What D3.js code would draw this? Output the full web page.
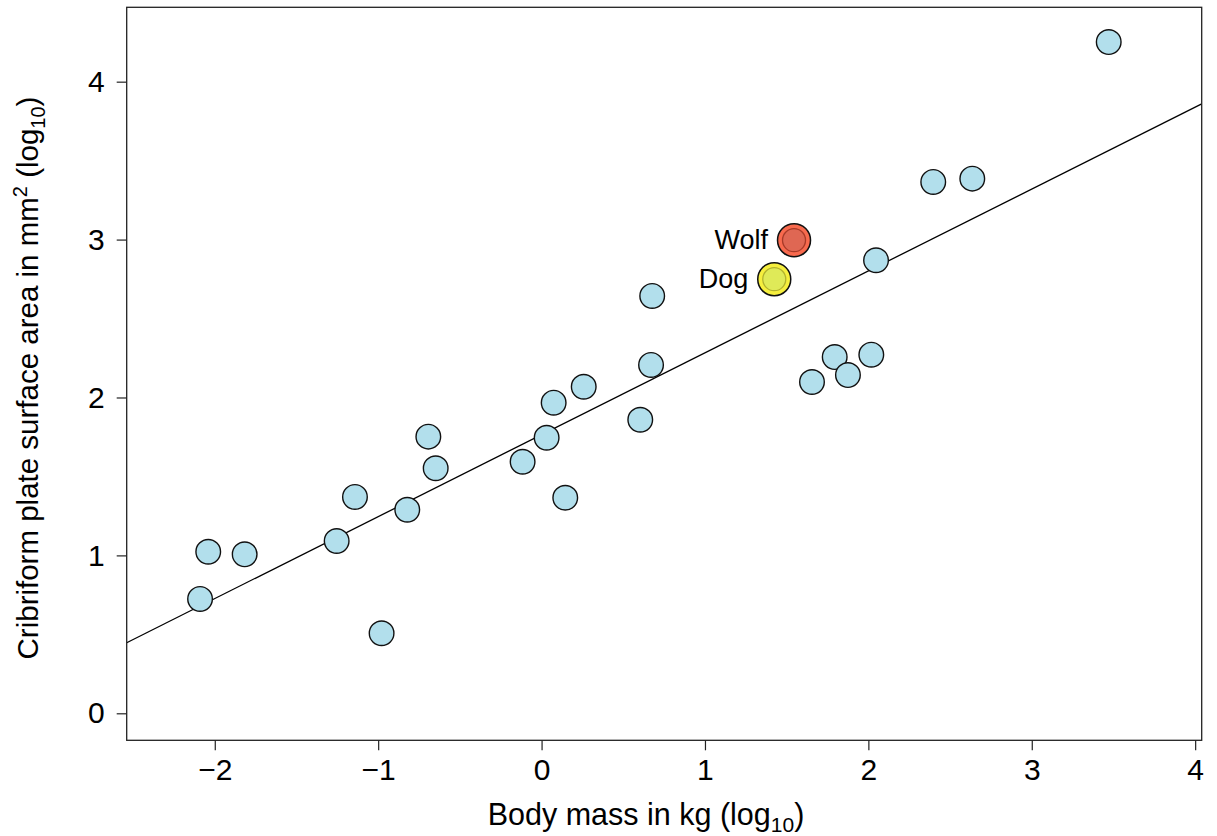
<!DOCTYPE html>
<html>
<head>
<meta charset="utf-8">
<script src="https://cdn.jsdelivr.net/npm/d3@7"></script>
<style>
  html, body { margin: 0; padding: 0; background: #fff; }
  svg { display: block; }
  text { font-family: "Liberation Sans", Arial, Helvetica, sans-serif; fill: #000; }
</style>
</head>
<body>
<svg id="chart" width="1217" height="836"></svg>
<script>
// Species: log10 body mass (kg) and log10 cribriform plate area (mm^2)
const bodyMass = [-2.090, -2.040, -1.817, -1.254, -1.142, -0.979, -0.822, -0.693, -0.648,
                  -0.116, 0.031, 0.074, 0.145, 0.258, 0.604, 0.670, 0.677,
                  1.655, 1.794, 1.875, 2.018, 2.047, 2.397, 2.636, 3.471];
const plateArea = [0.724, 1.023, 1.007, 1.091, 1.370, 0.507, 1.289, 1.752, 1.552,
                   1.593, 1.745, 1.967, 1.365, 2.068, 1.859, 2.206, 2.643,
                   2.098, 2.256, 2.142, 2.271, 2.869, 3.365, 3.386, 4.251];

// Highlighted canids
const highlightNames = ["Wolf", "Dog"];
const highlightMass = [1.545, 1.424];
const highlightArea = [2.996, 2.749];
const highlightOuter = ["#f86a4e", "#f6ef3e"];
const highlightInner = ["#df6753", "#dfea58"];
const highlightEdge = ["#a83a28", "#b2b22e"];

// Fitted line: area = intercept + slope * mass
const fitIntercept = 1.764;
const fitSlope = 0.5187;

const xTicks = [-2, -1, 0, 1, 2, 3, 4];
const yTicks = [0, 1, 2, 3, 4];
const xDomain = [-2.539, 4.040];
const yDomain = [-0.171, 4.471];

const plot = { left: 126.7, right: 1201.7, top: 7.3, bottom: 740.3 };

const svg = d3.select("#chart");
const x = d3.scaleLinear().domain(xDomain).range([plot.left, plot.right]);
const y = d3.scaleLinear().domain(yDomain).range([plot.bottom, plot.top]);

const fmt = d3.format("");

// Axes
const xAxis = svg.append("g")
  .attr("transform", `translate(0,${plot.bottom})`)
  .call(d3.axisBottom(x).tickValues(xTicks).tickFormat(fmt).tickSize(10).tickPadding(8));
const yAxis = svg.append("g")
  .attr("transform", `translate(${plot.left},0)`)
  .call(d3.axisLeft(y).tickValues(yTicks).tickFormat(fmt).tickSize(10).tickPadding(12));
[xAxis, yAxis].forEach(g => {
  g.select(".domain").remove();
  g.selectAll(".tick line").attr("stroke", "#222").attr("stroke-width", 1.2);
  g.selectAll(".tick text").attr("font-size", 30).attr("fill", "#000")
    .style("font-family", '"Liberation Sans", Arial, Helvetica, sans-serif');
});

// Clip for the fit line
svg.append("clipPath").attr("id", "plotClip")
  .append("rect")
  .attr("x", plot.left).attr("y", plot.top)
  .attr("width", plot.right - plot.left).attr("height", plot.bottom - plot.top);

svg.append("line")
  .attr("clip-path", "url(#plotClip)")
  .attr("x1", x(xDomain[0])).attr("y1", y(fitIntercept + fitSlope * xDomain[0]))
  .attr("x2", x(xDomain[1])).attr("y2", y(fitIntercept + fitSlope * xDomain[1]))
  .attr("stroke", "#000").attr("stroke-width", 1.3);

// Species points
const pts = bodyMass.map((m, i) => ({ m, a: plateArea[i] }));
svg.append("g").selectAll("circle").data(pts).join("circle")
  .attr("cx", d => x(d.m)).attr("cy", d => y(d.a)).attr("r", 12.3)
  .attr("fill", "#b2dfec").attr("stroke", "#111").attr("stroke-width", 1.4);

// Wolf and dog
const hl = highlightNames.map((n, i) => ({ n, m: highlightMass[i], a: highlightArea[i], i }));
const hg = svg.append("g").selectAll("g").data(hl).join("g");
hg.append("circle")
  .attr("cx", d => x(d.m)).attr("cy", d => y(d.a)).attr("r", 16.5)
  .attr("fill", d => highlightOuter[d.i]).attr("stroke", "#111").attr("stroke-width", 1.5);
hg.append("circle")
  .attr("cx", d => x(d.m)).attr("cy", d => y(d.a)).attr("r", 11.5)
  .attr("fill", d => highlightInner[d.i]).attr("stroke", d => highlightEdge[d.i]).attr("stroke-width", 1.3);
hg.append("text")
  .attr("x", d => x(d.m) - 26).attr("y", d => y(d.a) + 9)
  .attr("text-anchor", "end").attr("font-size", 27)
  .text(d => d.n);

// Plot frame
svg.append("rect")
  .attr("x", plot.left).attr("y", plot.top)
  .attr("width", plot.right - plot.left).attr("height", plot.bottom - plot.top)
  .attr("fill", "none").attr("stroke", "#222").attr("stroke-width", 1.3);

// Axis titles
const xt = svg.append("text").attr("x", 646).attr("y", 825)
  .attr("text-anchor", "middle").attr("font-size", 30.5);
xt.append("tspan").text("Body mass in kg (log");
xt.append("tspan").attr("font-size", 21).attr("dy", 7).text("10");
xt.append("tspan").attr("dy", -7).text(")");

const yt = svg.append("text")
  .attr("transform", "translate(38,378) rotate(-90)")
  .attr("text-anchor", "middle").attr("font-size", 29.5);
yt.append("tspan").text("Cribriform plate surface area in mm");
yt.append("tspan").attr("font-size", 20).attr("dy", -11).text("2");
yt.append("tspan").attr("dy", 11).text(" (log");
yt.append("tspan").attr("font-size", 20).attr("dy", 7).text("10");
yt.append("tspan").attr("dy", -7).text(")");
</script>
</body>
</html>
